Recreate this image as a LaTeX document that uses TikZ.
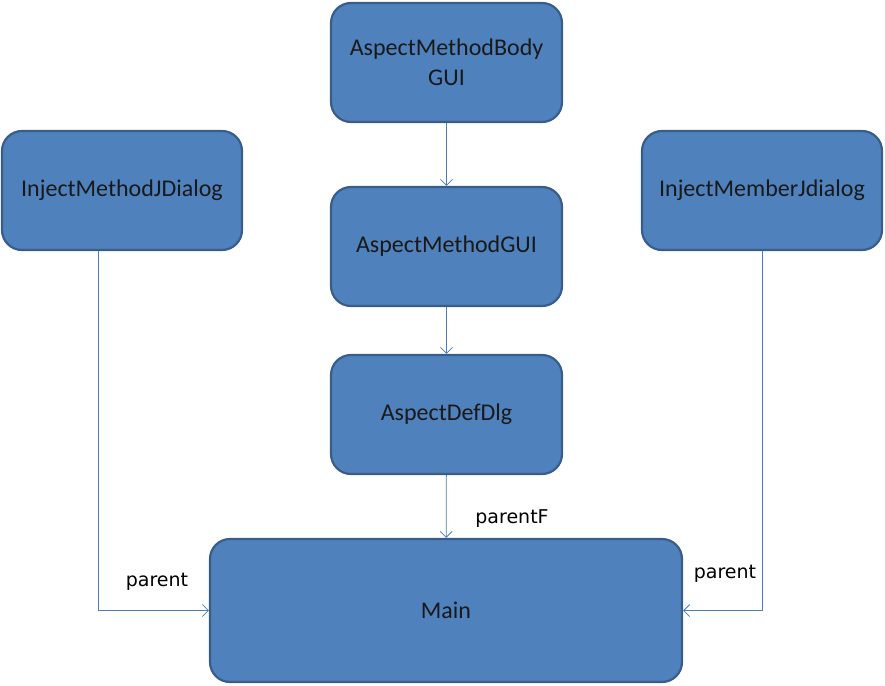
\documentclass[tikz,border=0pt]{standalone}
\usepackage{fontspec}
\setmainfont{Carlito}
\newfontfamily\labfont{DejaVu Sans}
\usetikzlibrary{arrows.meta,calc}
\definecolor{boxfill}{HTML}{4F81BD}
\definecolor{boxline}{HTML}{385D8A}
\definecolor{conn}{HTML}{4A7EBB}
\begin{document}
\begin{tikzpicture}[x=1pt,y=-1pt,
  box/.style={draw=boxline,line width=2.2pt,fill=boxfill,rounded corners=20pt,
    minimum width=#1,text=black!90,font=\fontsize{24}{30}\selectfont,align=center,inner sep=0pt},
  box/.default=231pt,
  conn/.style={draw=conn,line width=0.8pt,-{Straight Barb[length=6pt,width=12pt,line width=0.8pt]}},
  lab/.style={font=\labfont\fontsize{19}{22}\selectfont,text=black,inner sep=0pt}]
\useasboundingbox (0,0) rectangle (885,685);
\node[box,minimum height=119pt] (ambg) at (446.5,62.5) {AspectMethodBody\\GUI};
\node[box,minimum height=119pt] (amg) at (446.5,246.5) {AspectMethodGUI};
\node[box,minimum height=119pt] (add) at (446.5,414.5) {AspectDefDlg};
\node[box=240pt,minimum height=119pt] (imj) at (122,190.5) {InjectMethodJDialog};
\node[box=240pt,minimum height=119pt] (imem) at (762,190.5) {InjectMemberJdialog};
\node[box=472pt,minimum height=143pt] (main) at (446,610.5) {Main};
\draw[conn] (ambg) -- (amg);
\draw[conn] (amg) -- (add);
\draw[conn] (add) -- (main);
\draw[conn] ([xshift=-24pt]imj.south) |- (main.west);
\draw[conn] (imem.south) |- (main.east);
\node[lab] (l1) at (512,519) {parentF};
\node[lab] (l2) at (157,582) {parent};
\node[lab] (l3) at (725,574) {parent};
\end{tikzpicture}
\end{document}
